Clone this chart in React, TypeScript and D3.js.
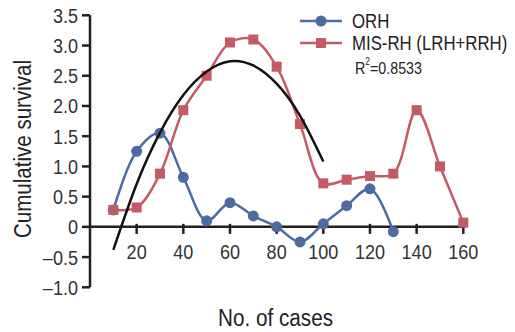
import React, {useRef, useEffect} from 'react';
import * as d3 from 'd3';

// 数据
const cases = [10, 20, 30, 40, 50, 60, 70, 80, 90, 100, 110, 120, 130, 140, 150, 160];
const orh = [0.28, 1.25, 1.55, 0.82, 0.1, 0.4, 0.18, 0, -0.25, 0.05, 0.35, 0.63, -0.08];
const misRh = [0.28, 0.32, 0.88, 1.93, 2.5, 3.05, 3.1, 2.65, 1.7, 0.72, 0.78, 0.84, 0.88, 1.93, 1.0, 0.07];
// 趋势线
const trendX = [10, 20, 30, 40, 50, 60, 70, 80, 90, 100];
const trendY = [-0.38, 0.71, 1.56, 2.18, 2.57, 2.74, 2.67, 2.37, 1.84, 1.08];
const xTicks = [20, 40, 60, 80, 100, 120, 140, 160];
const yTicks = [-1.0, -0.5, 0, 0.5, 1.0, 1.5, 2.0, 2.5, 3.0, 3.5];
const seriesNames = ['ORH', 'MIS-RH (LRH+RRH)'];

const BLUE = '#4d6ba3';
const RED = '#c45a65';
const AXIS = '#231f20';
const FONT = '"Liberation Sans", Arial, sans-serif';
const SX = 0.86; // 窄字体效果

export default function App() {
  const ref = useRef<SVGSVGElement>(null);

  useEffect(() => {
    const svg = d3.select(ref.current);
    svg.selectAll('*').remove();

    const x = d3.scaleLinear().domain([0, 160]).range([90, 463.3]);
    const y = d3.scaleLinear().domain([-1, 3.5]).range([287.3, 15.3]);

    // 压缩文字
    const label = (parent: any, px: number, py: number, str: string, size: number, anchor: string, sx = SX, fill = '#333') =>
      parent.append('text')
        .attr('transform', `translate(${px},${py}) scale(${sx},1)`)
        .attr('text-anchor', anchor).attr('dominant-baseline', 'central')
        .attr('font-size', size).attr('fill', fill)
        .text(str);

    // Y 轴
    svg.append('line')
      .attr('x1', x(0)).attr('x2', x(0))
      .attr('y1', y(-1)).attr('y2', y(3.5))
      .attr('stroke', AXIS).attr('stroke-width', 2.5);
    const yg = svg.append('g');
    yg.selectAll('line').data(yTicks).enter().append('line')
      .attr('x1', x(0) - 8).attr('x2', x(0))
      .attr('y1', d => y(d)).attr('y2', d => y(d))
      .attr('stroke', AXIS).attr('stroke-width', 2.5);
    yTicks.forEach(d => {
      const s = d === 0 ? '0' : (d < 0 ? '\u2013' + Math.abs(d).toFixed(1) : d.toFixed(1));
      label(yg, x(0) - 12, y(d), s, 21, 'end');
    });

    // X 轴
    svg.append('line')
      .attr('x1', x(0)).attr('x2', x(160) + 2)
      .attr('y1', y(0)).attr('y2', y(0))
      .attr('stroke', AXIS).attr('stroke-width', 2.5);
    const xg = svg.append('g');
    xg.selectAll('line').data(xTicks).enter().append('line')
      .attr('x1', d => x(d)).attr('x2', d => x(d))
      .attr('y1', y(0) - 3).attr('y2', y(0) + 7)
      .attr('stroke', AXIS).attr('stroke-width', 2.5);
    xTicks.forEach(d => label(xg, x(d), y(0) + 25, String(d), 21, 'middle'));

    // 轴标题
    svg.append('text')
      .attr('transform', `translate(23,149) rotate(-90)`)
      .attr('text-anchor', 'middle').attr('dominant-baseline', 'central')
      .attr('font-size', 23).attr('fill', '#222')
      .attr('textLength', 178).attr('lengthAdjust', 'spacingAndGlyphs')
      .text('Cumulative survival');
    svg.append('text')
      .attr('x', 275.5).attr('y', 318)
      .attr('text-anchor', 'middle').attr('dominant-baseline', 'central')
      .attr('font-size', 23).attr('fill', '#222')
      .attr('textLength', 115).attr('lengthAdjust', 'spacingAndGlyphs')
      .text('No. of cases');

    const curve = d3.curveCatmullRom.alpha(0.5);

    // ORH
    const orhData = orh.map((v, i) => [cases[i], v] as [number, number]);
    svg.append('path')
      .attr('d', d3.line<[number, number]>().x(d => x(d[0])).y(d => y(d[1])).curve(curve)(orhData))
      .attr('fill', 'none').attr('stroke', BLUE).attr('stroke-width', 2.5);
    svg.append('g').selectAll('circle').data(orhData).enter().append('circle')
      .attr('cx', d => x(d[0])).attr('cy', d => y(d[1])).attr('r', 5.5)
      .attr('fill', BLUE);

    // MIS-RH
    const misData = misRh.map((v, i) => [cases[i], v] as [number, number]);
    svg.append('path')
      .attr('d', d3.line<[number, number]>().x(d => x(d[0])).y(d => y(d[1])).curve(curve)(misData))
      .attr('fill', 'none').attr('stroke', RED).attr('stroke-width', 2.5);
    svg.append('g').selectAll('rect').data(misData).enter().append('rect')
      .attr('x', d => x(d[0]) - 5).attr('y', d => y(d[1]) - 5)
      .attr('width', 10).attr('height', 10)
      .attr('fill', RED);

    // 趋势线
    const tData = trendX.map((v, i) => [v, trendY[i]] as [number, number]);
    svg.append('path')
      .attr('d', d3.line<[number, number]>().x(d => x(d[0])).y(d => y(d[1])).curve(d3.curveNatural)(tData))
      .attr('fill', 'none').attr('stroke', '#111').attr('stroke-width', 2.5);

    // 图例
    const lg = svg.append('g');
    seriesNames.forEach((name, i) => {
      const ly = 21 + i * 22;
      lg.append('line')
        .attr('x1', 300).attr('x2', 342).attr('y1', ly).attr('y2', ly)
        .attr('stroke', i === 0 ? BLUE : RED).attr('stroke-width', 2.5);
      if (i === 0) {
        lg.append('circle').attr('cx', 321).attr('cy', ly).attr('r', 5.5).attr('fill', BLUE);
      } else {
        lg.append('rect').attr('x', 316).attr('y', ly - 5).attr('width', 10).attr('height', 10).attr('fill', RED);
      }
      label(lg, 352, ly, name, 21, 'start', 0.8, '#222');
    });
    const r2 = lg.append('text')
      .attr('transform', `translate(355,68) scale(0.84,1)`)
      .attr('dominant-baseline', 'central')
      .attr('font-size', 17).attr('fill', '#222');
    r2.append('tspan').text('R');
    r2.append('tspan').attr('font-size', 10).attr('dy', -6).text('2');
    r2.append('tspan').attr('dy', 6).text('=0.8533');
  }, []);

  return (
    <svg ref={ref} width={515} height={332}
      style={{position: 'absolute', top: 0, left: 0, fontFamily: FONT, background: '#fff'}}/>
  );
}
